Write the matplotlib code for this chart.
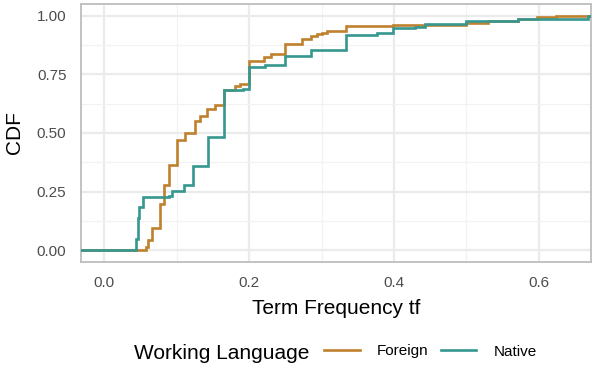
import matplotlib
matplotlib.use("Agg")
import matplotlib.pyplot as plt
import numpy as np

# ECDF jump points (x) and CDF value after each jump
foreign_x = [0.058, 0.061, 0.066, 0.077, 0.083, 0.090, 0.100, 0.111, 0.125, 0.132,
             0.142, 0.153, 0.165, 0.181, 0.188, 0.200, 0.221, 0.230, 0.249, 0.273,
             0.285, 0.294, 0.300, 0.308, 0.334, 0.399, 0.499, 0.530, 0.571, 0.597, 0.623]
foreign_cdf = [0.013, 0.042, 0.097, 0.197, 0.278, 0.363, 0.472, 0.500, 0.551, 0.571,
               0.603, 0.619, 0.684, 0.699, 0.708, 0.808, 0.826, 0.838, 0.879, 0.902,
               0.914, 0.921, 0.927, 0.935, 0.956, 0.962, 0.970, 0.978, 0.987, 0.994, 1.000]

native_x = [0.044, 0.046, 0.048, 0.054, 0.090, 0.094, 0.110, 0.123, 0.143, 0.166,
            0.191, 0.200, 0.222, 0.250, 0.285, 0.334, 0.376, 0.399, 0.429, 0.443,
            0.499, 0.571, 0.668]
native_cdf = [0.048, 0.137, 0.186, 0.225, 0.233, 0.254, 0.278, 0.360, 0.483, 0.684,
              0.688, 0.782, 0.792, 0.828, 0.855, 0.917, 0.928, 0.948, 0.953, 0.965,
              0.979, 0.987, 1.000]

series_names = ["Foreign", "Native"]
series_colors = ["#BF812D", "#35978F"]
legend_title = "Working Language"

x_ticks = [0.0, 0.2, 0.4, 0.6]
x_ticklabels = ["0.0", "0.2", "0.4", "0.6"]
y_ticks = [0.0, 0.25, 0.5, 0.75, 1.0]
y_ticklabels = ["0.00", "0.25", "0.50", "0.75", "1.00"]

plt.rcParams['font.family'] = ['Liberation Sans', 'DejaVu Sans']

fig = plt.figure(figsize=(5.92, 3.67), dpi=100)
W, H = 592, 367
L, R, T, B = 81, 591, 4, 262
ax = fig.add_axes([L / W, 1 - B / H, (R - L) / W, (B - T) / H])

xlim = (-0.032, 0.672)
ylim = (-0.05, 1.05)
ax.set_xlim(*xlim)
ax.set_ylim(*ylim)

lines = []
for xs, ys, name, col in [(foreign_x, foreign_cdf, series_names[0], series_colors[0]),
                          (native_x, native_cdf, series_names[1], series_colors[1])]:
    px = [xlim[0] - 1] + list(xs) + [xlim[1] + 1]
    py = [0.0] + list(ys) + [ys[-1]]
    ln, = ax.plot(px, py, drawstyle="steps-post", color=col, lw=1.9, label=name,
                  zorder=3, solid_joinstyle="miter")
    lines.append(ln)

# grid
ax.set_xticks(x_ticks)
ax.set_xticklabels(x_ticklabels)
ax.set_yticks(y_ticks)
ax.set_yticklabels(y_ticklabels)
ax.set_xticks([0.1, 0.3, 0.5], minor=True)
ax.set_yticks([0.125, 0.375, 0.625, 0.875], minor=True)
ax.grid(True, which="major", color="#EBEBEB", lw=1.6, zorder=0)
ax.grid(True, which="minor", color="#F2F2F2", lw=0.9, zorder=0)
ax.set_axisbelow(True)
ax.tick_params(which="both", length=0)
ax.tick_params(axis="y", pad=10.5, labelsize=11, labelcolor="#4D4D4D")
ax.tick_params(axis="x", pad=10, labelsize=11, labelcolor="#4D4D4D")
for s in ax.spines.values():
    s.set_color("#BDBDBD")
    s.set_linewidth(1.3)

ax.set_xlabel("Term Frequency tf", fontsize=15, va="baseline")
ax.xaxis.set_label_coords(0.5, (B - 314.3) / (B - T))
ax.set_ylabel("CDF", fontsize=15, va="center")
ax.yaxis.set_label_coords((14.5 - L) / (R - L), 0.5)

# legend
fig.text(134 / W, 1 - 358.7 / H, legend_title, fontsize=15, ha="left", va="baseline")
leg = fig.legend(handles=lines, labels=series_names, ncol=2, frameon=False,
                 fontsize=11, handlelength=2.35, handletextpad=1.1, columnspacing=0.8,
                 loc="center left", bbox_to_anchor=(324 / W, 1 - 351.5 / H),
                 borderpad=0, borderaxespad=0)

fig.savefig("out.png", dpi=100)
